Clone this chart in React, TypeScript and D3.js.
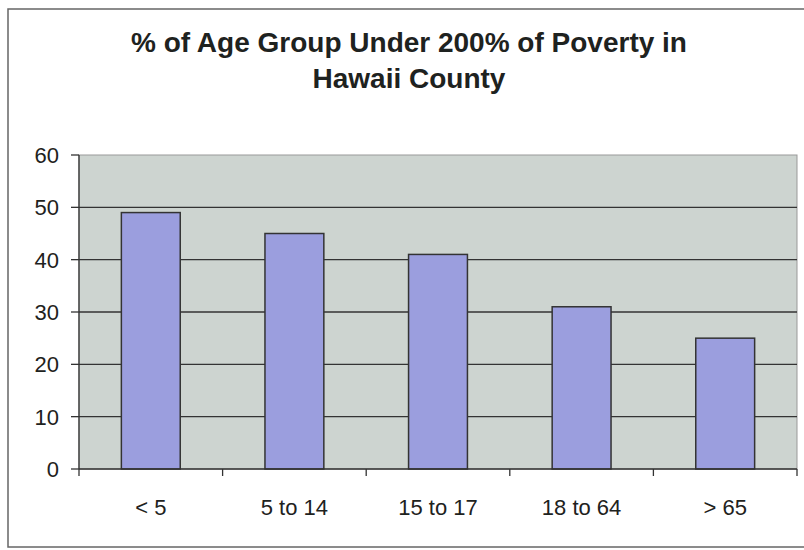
import React from "react";
import * as d3 from "d3";

const categories = ["< 5", "5 to 14", "15 to 17", "18 to 64", "> 65"];
const values = [49, 45, 41, 31, 25];
const yTicks = [0, 10, 20, 30, 40, 50, 60];
const titleLines = ["% of Age Group Under 200% of Poverty in", "Hawaii County"];

export default function App() {
  const W = 804, H = 550;
  const left = 79, right = 797, top = 155, bottom = 469;
  const x = d3.scaleBand<string>().domain(categories).range([left, right]).paddingInner(0.59).paddingOuter(0.295);
  const xc = d3.scaleBand<string>().domain(categories).range([left, right]);
  const y = d3.scaleLinear().domain([0, 60]).range([bottom, top]);
  const font = "'Liberation Sans', Arial, sans-serif";
  return (
    <svg width={W} height={H} style={{ position: "absolute", left: 0, top: 0 }} fontFamily={font}>
      <rect x={0} y={0} width={W} height={H} fill="#fff" />
      <rect x={8} y={9} width={W + 10} height={538} fill="none" stroke="#666" strokeWidth={1.5} />
      {titleLines.map((t, i) => (
        <text key={i} x={409} y={52 + i * 36} textAnchor="middle" fontWeight="bold" fontSize={28} fill="#1e2220">{t}</text>
      ))}
      <rect x={left} y={top} width={right - left} height={bottom - top} fill="#cdd4d0" stroke="#999" />
      {yTicks.map(t => (
        <g key={t}>
          {t > 0 && t < 60 && <line x1={left} x2={right} y1={y(t)} y2={y(t)} stroke="#333" strokeWidth={1.3} />}
          <line x1={left - 8} x2={left} y1={y(t)} y2={y(t)} stroke="#333" strokeWidth={1.3} />
          <text x={59} y={y(t) + 8} textAnchor="end" fontSize={22} fill="#1e2220">{t}</text>
        </g>
      ))}
      {categories.map((c, i) => (
        <rect key={c} x={x(c)} y={y(values[i])} width={x.bandwidth()} height={bottom - y(values[i])} fill="#9b9ede" stroke="#333" strokeWidth={1.5} />
      ))}
      <line x1={left} x2={left} y1={top} y2={bottom} stroke="#333" strokeWidth={1.3} />
      <line x1={left} x2={right} y1={bottom} y2={bottom} stroke="#333" strokeWidth={1.3} />
      {categories.map(c => (
        <line key={c} x1={(xc(c) as number) + xc.bandwidth()} x2={(xc(c) as number) + xc.bandwidth()} y1={bottom} y2={bottom + 7} stroke="#333" strokeWidth={1.3} />
      ))}
      <line x1={left} x2={left} y1={bottom} y2={bottom + 7} stroke="#333" strokeWidth={1.3} />
      {categories.map(c => (
        <text key={c} x={(xc(c) as number) + xc.bandwidth() / 2} y={515} textAnchor="middle" fontSize={22} fill="#1e2220">{c}</text>
      ))}
    </svg>
  );
}
